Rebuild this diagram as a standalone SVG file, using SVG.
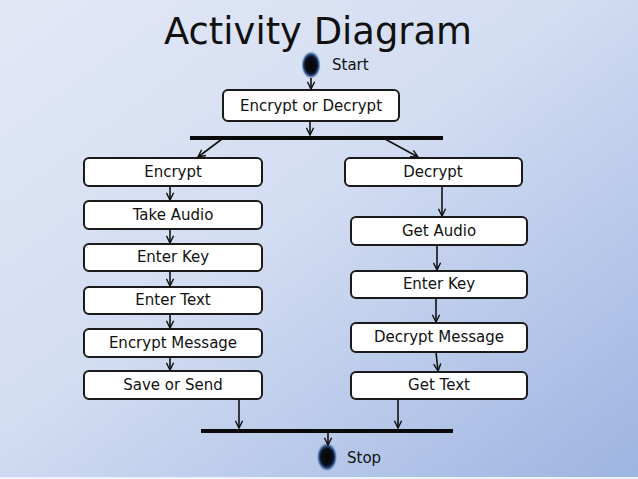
<svg xmlns="http://www.w3.org/2000/svg" width="638" height="479" viewBox="0 0 638 479">
<defs>
<linearGradient id="bg" x1="0" y1="0" x2="1" y2="1">
<stop offset="0" stop-color="#e3e8f6"/>
<stop offset="0.45" stop-color="#d3ddf2"/>
<stop offset="1" stop-color="#9db4e1"/>
</linearGradient>
<radialGradient id="node" cx="0.5" cy="0.5" r="0.5">
<stop offset="0" stop-color="#050505"/>
<stop offset="0.62" stop-color="#0a0f1a"/>
<stop offset="0.8" stop-color="#2d4f86"/>
<stop offset="1" stop-color="#7e9ccc" stop-opacity="0.3"/>
</radialGradient>
<marker id="arr" viewBox="0 0 10 10" refX="9" refY="5" markerWidth="9" markerHeight="9" markerUnits="userSpaceOnUse" orient="auto">
<path d="M1,1 L9,5 L1,9" fill="none" stroke="#111" stroke-width="1.6"/>
</marker>
<style>
.box{fill:#fff;stroke:#1a1a1a;stroke-width:2}
.lbl{font-family:"DejaVu Sans","Liberation Sans",sans-serif;font-size:15px;fill:#111;text-anchor:middle}
.side{font-family:"DejaVu Sans","Liberation Sans",sans-serif;font-size:15px;fill:#111}
.bar{fill:#0a0a0a}
.con line{stroke:#111;stroke-width:1.6;marker-end:url(#arr)}
</style>
</defs>
<rect width="638" height="479" fill="url(#bg)"/>
<rect x="0" y="477" width="638" height="2" fill="#eef2fa"/>
<text x="318" y="44" font-family="DejaVu Sans,Liberation Sans,sans-serif" font-size="37" fill="#111" text-anchor="middle" textLength="308" lengthAdjust="spacingAndGlyphs">Activity Diagram</text>

<g id="start">
<ellipse cx="311" cy="65" rx="9.5" ry="13.5" fill="url(#node)"/>
<text class="side" x="332" y="70">Start</text>
</g>
<g id="stop">
<ellipse cx="327" cy="457" rx="10" ry="14" fill="url(#node)"/>
<text class="side" x="347" y="463">Stop</text>
</g>
<g id="fork"><rect class="bar" x="190" y="136" width="253" height="4"/></g>
<g id="join"><rect class="bar" x="201" y="429" width="252" height="4"/></g>

<g id="n-encdec"><rect class="box" x="223" y="90" width="176" height="31" rx="5"/><text class="lbl" x="311" y="111">Encrypt or Decrypt</text></g>

<g id="n-encrypt"><rect class="box" x="84" y="158" width="178" height="28" rx="5"/><text class="lbl" x="173" y="177">Encrypt</text></g>
<g id="n-take"><rect class="box" x="84" y="201" width="178" height="28" rx="5"/><text class="lbl" x="173" y="220">Take Audio</text></g>
<g id="n-key1"><rect class="box" x="84" y="244" width="178" height="27" rx="5"/><text class="lbl" x="173" y="262">Enter Key</text></g>
<g id="n-text"><rect class="box" x="84" y="287" width="178" height="27" rx="5"/><text class="lbl" x="173" y="305">Enter Text</text></g>
<g id="n-encmsg"><rect class="box" x="84" y="329" width="178" height="28" rx="5"/><text class="lbl" x="173" y="348">Encrypt Message</text></g>
<g id="n-save"><rect class="box" x="84" y="371" width="178" height="28" rx="5"/><text class="lbl" x="173" y="390">Save or Send</text></g>

<g id="n-decrypt"><rect class="box" x="345" y="158" width="177" height="28" rx="5"/><text class="lbl" x="433" y="177">Decrypt</text></g>
<g id="n-get"><rect class="box" x="351" y="217" width="176" height="28" rx="5"/><text class="lbl" x="439" y="236">Get Audio</text></g>
<g id="n-key2"><rect class="box" x="351" y="271" width="176" height="27" rx="5"/><text class="lbl" x="439" y="289">Enter Key</text></g>
<g id="n-decmsg"><rect class="box" x="351" y="323" width="176" height="29" rx="5"/><text class="lbl" x="439" y="342">Decrypt Message</text></g>
<g id="n-gettext"><rect class="box" x="351" y="372" width="176" height="27" rx="5"/><text class="lbl" x="439" y="390">Get Text</text></g>

<g id="connectors" class="con">
<line x1="311" y1="78" x2="311" y2="89"/>
<line x1="310" y1="122" x2="310" y2="135"/>
<line x1="222" y1="139" x2="198" y2="157"/>
<line x1="385" y1="139" x2="418" y2="157"/>
<line x1="170" y1="186" x2="170" y2="200"/>
<line x1="170" y1="229" x2="170" y2="243"/>
<line x1="170" y1="271" x2="170" y2="286"/>
<line x1="170" y1="314" x2="170" y2="328"/>
<line x1="170" y1="357" x2="170" y2="370"/>
<line x1="239" y1="399" x2="239" y2="428"/>
<line x1="442" y1="186" x2="442" y2="216"/>
<line x1="437" y1="245" x2="437" y2="270"/>
<line x1="436" y1="298" x2="436" y2="322"/>
<line x1="436" y1="352" x2="438" y2="371"/>
<line x1="398" y1="399" x2="398" y2="428"/>
<line x1="328" y1="433" x2="328" y2="445"/>
</g>
</svg>
